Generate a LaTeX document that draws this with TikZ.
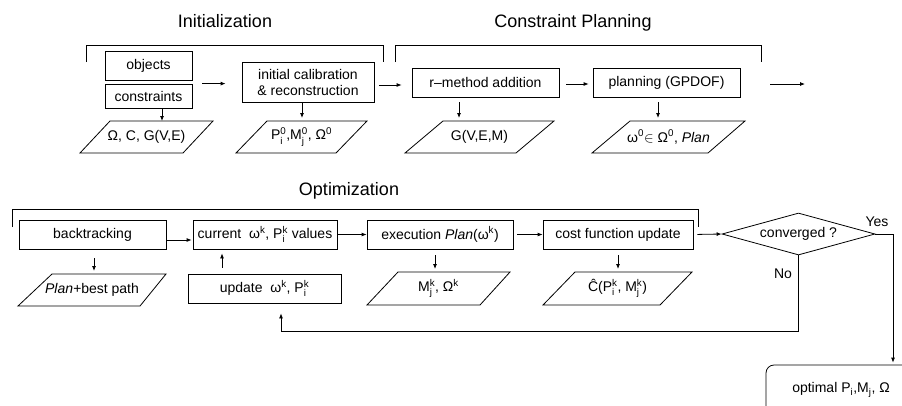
\documentclass[tikz,border=0pt]{standalone}
\usepackage{amsmath}
\usepackage{fontspec}
\setmainfont{Liberation Sans}
\usetikzlibrary{arrows.meta,shapes.geometric,calc}
\newcommand\psb[3]{#1\ensuremath{^{\text{#2}}_{\text{#3}}}}
\newcommand\psp[2]{#1\ensuremath{^{\text{#2}}}}
\newcommand\para[8]{%
  \draw (#4,#3) -- (#5,#2) -- (#6,#2) -- (#7,#3) -- cycle;
  \coordinate (#1-top) at ({(#5+#6)/2},#2);
  \node[lbl] (#1) at ({(#4+#6)/2},{(#2+#3)/2}) {#8};}
\begin{document}
\begin{tikzpicture}[x=1pt,y=-1pt, line width=0.8pt,
  box/.style={draw, inner sep=0pt, font=\fontsize{14}{16}\selectfont, align=center},
  lbl/.style={inner sep=0pt, font=\fontsize{14}{16}\selectfont},
  ttl/.style={inner sep=0pt, anchor=base, font=\fontsize{18}{20}\selectfont},
  arr/.style={-{Latex[length=5pt,width=4pt]}},
]
\useasboundingbox (0,0) rectangle (902,405);
\clip (0,0) rectangle (902,405);

% titles
\node[ttl] (t1) at (225,27) {Initialization};
\node[ttl] (t2) at (573,27) {Constraint Planning};
\node[ttl] (t3) at (349,195) {Optimization};

% brackets
\draw (86,62) |- (383,45) -- (383,62);
\draw (395,62) |- (761,45) -- (761,62);
\draw (12,227) |- (698,209) -- (698,227);

% row 1 boxes
\node[box, minimum width=87, minimum height=29] (obj) at (148.5,65.5) {objects};
\node[box, minimum width=87, minimum height=24] (cons) at (148.5,96) {constraints};
\node[box, minimum width=132, minimum height=40] (calib) at (308,82) {initial calibration\\\& reconstruction};
\node[box, minimum width=147, minimum height=29] (rmeth) at (485.5,82.5) {r–method addition};
\node[box, minimum width=147, minimum height=29] (plan) at (666.5,82.5) {planning (GPDOF)};

% row 1 data
\para{p1}{121}{153}{80}{110}{213}{183}{Ω, C, G(V,E)}
\para{p2}{121}{153}{236}{267}{367}{336}{\psb{P}{0}{i},\psb{M}{0}{j}, \psp{Ω}{0}}
\para{p3}{121}{153}{405}{443}{554}{516}{G(V,E,M)}
\para{p4}{121}{153}{592}{630}{745}{708}{\psp{ω}{0}$\in$ \psp{Ω}{0}, \textit{Plan}}

% row 1 arrows
\draw[arr, shorten <=10pt, shorten >=16pt] (cons.north east) -- (cons.north east -| calib.west);
\draw[arr, shorten <=5pt, shorten >=10pt] ([yshift=-3pt]calib.east) -- ([yshift=-3pt]calib.east -| rmeth.west);
\draw[arr, shorten <=7pt, shorten >=4pt] ([yshift=-1.5pt]rmeth.east) -- ([yshift=-1.5pt]rmeth.east -| plan.west);
\coordinate (out) at (805,84);
\draw[arr, shorten <=30pt] (plan.east |- out) -- (out);

\draw[arr] (cons.south -| 162,0) -- (p1-top -| 162,0);
\draw[arr, shorten >=3pt] (calib.south -| 302,0) -- (p2-top -| 302,0);
\draw[arr, shorten <=5pt, shorten >=3pt] (rmeth.south -| 459,0) -- (p3-top -| 459,0);
\draw[arr, shorten <=5pt, shorten >=3pt] (plan.south -| 658,0) -- (p4-top -| 658,0);

% row 2 boxes
\node[box, minimum width=147, minimum height=29] (back) at (92.5,234.5) {backtracking};
\node[box, minimum width=144, minimum height=29] (cur) at (265,234.5) {current\ \ \psp{ω}{k}, \psb{P}{k}{i} values};
\node[box, minimum width=146, minimum height=29] (exec) at (440,234.5) {execution \textit{Plan}(\psp{ω}{k})};
\node[box, minimum width=150, minimum height=29] (cost) at (618,234.5) {cost function update};
\node[box, diamond, aspect=3.6, minimum width=153, minimum height=42] (conv) at (798.5,234) {converged ?};
\node[box, minimum width=153, minimum height=29] (upd) at (264.5,288.5) {update\ \ \psp{ω}{k}, \psb{P}{k}{i}};
\node[box, rounded corners=8pt, minimum width=150, minimum height=50] (opt) at (841,390) {optimal P\ensuremath{_{\text{i}}},M\ensuremath{_{\text{j}}}, Ω};

% row 2 data
\para{p5}{274}{306}{18}{52}{166}{140}{\textit{Plan+}best path}
\para{p6}{272}{305}{367}{398}{510}{480}{\psb{M}{k}{j}, \psp{Ω}{k}}
\para{p7}{272}{305}{543}{575}{692}{660}{Ĉ(\psb{P}{k}{i}, \psb{M}{k}{j})}

% labels
\node[lbl] (yes) at (877,222) {Yes};
\node[lbl] (no) at (783,274) {No};

% row 2 arrows
\draw[arr, shorten >=1pt] ([yshift=-5.5pt]back.east) -- ([yshift=-5.5pt]back.east -| cur.west);
\draw[arr] (cur.east) -- (exec.west);
\draw[arr, shorten <=4pt] (exec.east) -- (cost.west);
\draw[arr, shorten <=4pt] (cost.east) -- (conv.west);

\draw[arr, shorten <=9pt, shorten >=3pt] (back.south -| 94,0) -- (p5-top -| 94,0);
\draw[arr, shorten <=6pt, shorten >=3pt] (exec.south -| 435,0) -- (p6-top -| 435,0);
\draw[arr, shorten <=6pt, shorten >=3pt] (cost.south -| 618,0) -- (p7-top -| 618,0);
\draw[arr, shorten <=6pt, shorten >=4pt] ([xshift=-42.5pt]upd.north) -- ([xshift=-42.5pt]upd.north |- cur.south);

\draw[arr, shorten >=10pt] (conv.south) -- (conv.south |- 0,331) -| ([xshift=16.5pt]upd.south);
\draw[arr, shorten >=2pt] (conv.east) -| ([xshift=52pt]opt.north);
\end{tikzpicture}
\end{document}
